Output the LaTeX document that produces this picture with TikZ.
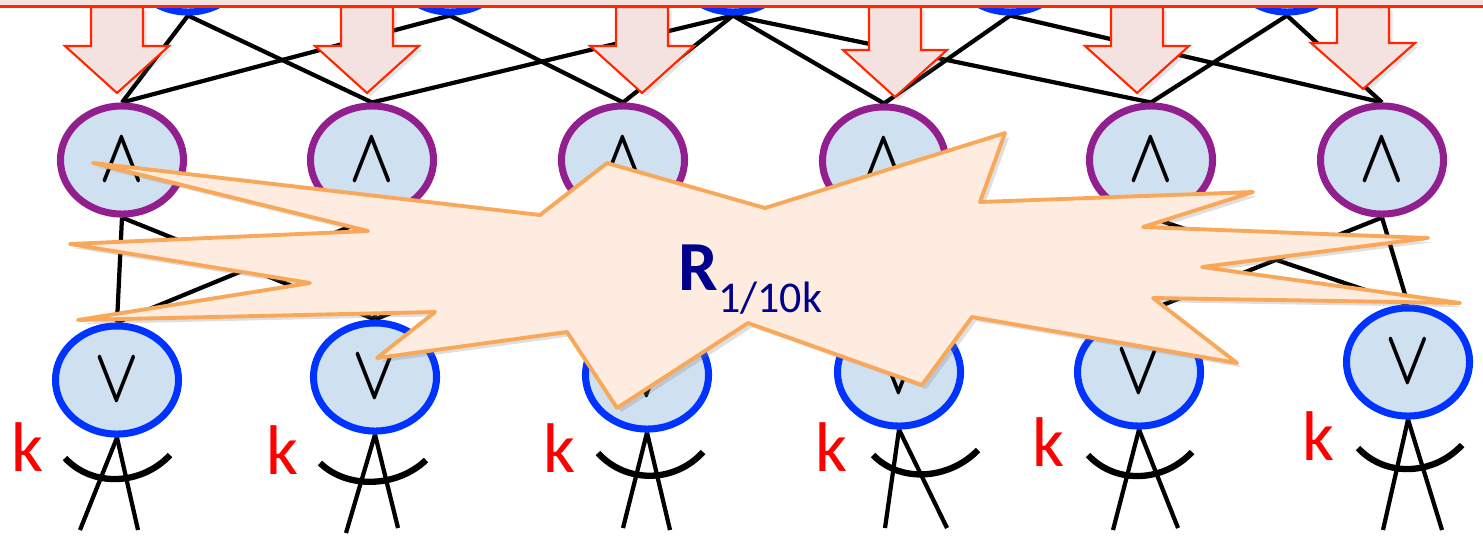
\documentclass[tikz,border=0pt]{standalone}
\usepackage{fontspec}
\newfontfamily\calib{Carlito}
\usetikzlibrary{shapes.geometric,shadows,backgrounds}
\definecolor{gateFill}{RGB}{207,224,241}
\definecolor{andPurple}{RGB}{145,32,142}
\definecolor{orBlue}{RGB}{0,51,255}
\definecolor{pushFill}{RGB}{243,226,224}
\definecolor{pushRed}{RGB}{255,38,0}
\definecolor{boomFill}{RGB}{253,236,223}
\definecolor{boomEdge}{RGB}{248,168,88}
\definecolor{labNavy}{RGB}{0,0,140}

\begin{document}
\begin{tikzpicture}[x=0.01cm, y=-0.01cm,
    gate/.style={ellipse, fill=gateFill, line width=2pt, minimum width=1.23cm,
                 minimum height=1.08cm, inner sep=0pt,
                 font=\fontsize{21}{21}\selectfont\boldmath},
    andg/.style={gate, draw=andPurple},
    org/.style={gate, draw=orBlue},
    wire/.style={black, line width=1.2pt},
    smile/.style={black, line width=1.8pt},
    klab/.style={font=\calib\fontsize{20}{20}\selectfont, text=red, inner sep=0pt},
    downarr/.style={fill=pushFill, draw=pushRed, line width=0.6pt,
                    drop shadow={opacity=.2, shadow xshift=1pt, shadow yshift=-1pt}},
    boom/.style={fill=boomFill, draw=boomEdge, line width=1.1pt, line join=round,
                 drop shadow={opacity=.25, shadow xshift=1.2pt, shadow yshift=-1.2pt}}
  ]
  \useasboundingbox (0,0) rectangle (1483,536);

  % top row (mostly hidden)
  \node[org] (t1) at (188,-42) {};
  \node[org] (t2) at (450,-42) {};
  \node[org] (t3) at (733,-42) {};
  \node[org] (t4) at (1010,-42) {};
  \node[org] (t5) at (1287,-42) {};

  % and gates
  \node[andg] (a1) at (122,160) {\scalebox{0.8}[1.05]{$\wedge$}};
  \node[andg] (a2) at (372,160) {\scalebox{0.8}[1.05]{$\wedge$}};
  \node[andg] (a3) at (623,160) {\scalebox{0.8}[1.05]{$\wedge$}};
  \node[andg] (a4) at (884,161) {\scalebox{0.8}[1.05]{$\wedge$}};
  \node[andg] (a5) at (1151,160) {\scalebox{0.8}[1.05]{$\wedge$}};
  \node[andg] (a6) at (1382,160) {\scalebox{0.8}[1.05]{$\wedge$}};

  % or gates
  \node[org] (v1) at (117,380) {\scalebox{0.8}[1.05]{$\vee$}};
  \node[org] (v2) at (375,377) {\scalebox{0.8}[1.05]{$\vee$}};
  \node[org] (v3) at (647,375) {\scalebox{0.8}[1.05]{$\vee$}};
  \node[org] (v4) at (899,372) {\scalebox{0.8}[1.05]{$\vee$}};
  \node[org] (v5) at (1139,372) {\scalebox{0.8}[1.05]{$\vee$}};
  \node[org] (v6) at (1408,362) {\scalebox{0.8}[1.05]{$\vee$}};

  \coordinate (f1a) at (80,530);   \coordinate (f1b) at (138,530);
  \coordinate (f2a) at (346,533);  \coordinate (f2b) at (398,528);
  \coordinate (f3a) at (623,528);  \coordinate (f3b) at (670,530);
  \coordinate (f4a) at (885,528);  \coordinate (f4b) at (947,528);
  \coordinate (f5a) at (1113,530); \coordinate (f5b) at (1178,528);
  \coordinate (f6a) at (1383,530); \coordinate (f6b) at (1442,530);

  \begin{pgfonlayer}{background}
    \draw[wire] (t1.south) -- (a1.north);
    \draw[wire] (t1.south) -- (a2.north);
    \draw[wire] (t2.south) -- (a1.north);
    \draw[wire] (t2.south) -- (a3.north);
    \draw[wire] (t3.south) -- (a2.north);
    \draw[wire] (t3.south) -- (a3.north);
    \draw[wire] (t3.south) -- (a4.north);
    \draw[wire] (t3.south) -- (a5.north);
    \draw[wire] (t4.south) -- (a4.north);
    \draw[wire] (t4.south) -- (a6.north);
    \draw[wire] (t5.south) -- (a5.north);
    \draw[wire] (t5.south) -- (a6.north);

    \draw[wire] (a1.south) -- (v1.north);
    \draw[wire] (a1.south) -- (v2.north);
    \draw[wire] (a2.south) -- (v1.north);
    \draw[wire] (a2.south) -- (v2.north);
    \draw[wire] (a2.south) -- (v3.north);
    \draw[wire] (a3.south) -- (v2.north);
    \draw[wire] (a3.south) -- (v3.north);
    \draw[wire] (a3.south) -- (v4.north);
    \draw[wire] (a4.south) -- (v3.north);
    \draw[wire] (a4.south) -- (v4.north);
    \draw[wire] (a4.south) -- (v5.north);
    \draw[wire] (a5.south) -- (v4.north);
    \draw[wire] (a5.south) -- (v5.north);
    \draw[wire] (a5.south) -- (v6.north);
    \draw[wire] (a6.south) -- (v5.north);
    \draw[wire] (a6.south) -- (v6.north);

    \draw[wire] (v1.south) -- (f1a);  \draw[wire] (v1.south) -- (f1b);
    \draw[wire] (v2.south) -- (f2a);  \draw[wire] (v2.south) -- (f2b);
    \draw[wire] (v3.south) -- (f3a);  \draw[wire] (v3.south) -- (f3b);
    \draw[wire] (v4.south) -- (f4a);  \draw[wire] (v4.south) -- (f4b);
    \draw[wire] (v5.south) -- (f5a);  \draw[wire] (v5.south) -- (f5b);
    \draw[wire] (v6.south) -- (f6a);  \draw[wire] (v6.south) -- (f6b);
  \end{pgfonlayer}

  % threshold arcs
  \draw[smile] (65,458) .. controls +(28,30) and +(-28,30) .. (170,455);
  \draw[smile] (320,463) .. controls +(28,27) and +(-28,27) .. (426,460);
  \draw[smile] (598,453) .. controls +(28,31) and +(-28,31) .. (703,452);
  \draw[smile] (873,455) .. controls +(28,29) and +(-28,29) .. (978,450);
  \draw[smile] (1088,455) .. controls +(28,30) and +(-28,30) .. (1192,452);
  \draw[smile] (1358,448) .. controls +(28,30) and +(-28,30) .. (1462,445);

  \node[klab] (k1) at (27,447) {k};
  \node[klab] (k2) at (282,450) {k};
  \node[klab] (k3) at (559,448) {k};
  \node[klab] (k4) at (831,447) {k};
  \node[klab] (k5) at (1048,442) {k};
  \node[klab] (k6) at (1318,436) {k};

  % push arrows
  \draw[downarr, shift={(117,0)}] (-26,7) -- (-26,46) -- (-52,46) -- (0,93) -- (52,46) -- (26,46) -- (26,7) -- cycle;
  \draw[downarr, shift={(367,0)}] (-26,7) -- (-26,46) -- (-52,46) -- (0,93) -- (52,46) -- (26,46) -- (26,7) -- cycle;
  \draw[downarr, shift={(642,0)}] (-26,7) -- (-26,46) -- (-52,46) -- (0,93) -- (52,46) -- (26,46) -- (26,7) -- cycle;
  \draw[downarr, shift={(895,0)}] (-26,7) -- (-26,50) -- (-52,50) -- (0,97) -- (52,50) -- (26,50) -- (26,7) -- cycle;
  \draw[downarr, shift={(1137,0)}] (-26,7) -- (-26,46) -- (-52,46) -- (0,93) -- (52,46) -- (26,46) -- (26,7) -- cycle;
  \draw[downarr, shift={(1363,0)}] (-26,7) -- (-26,43) -- (-52,43) -- (0,89) -- (52,43) -- (26,43) -- (26,7) -- cycle;

  \draw[fill=pushFill, draw=pushRed, line width=1pt] (-20,-100) rectangle (1503,6.5);

  % the blast
  \draw[boom] (93,163) -- (540,215) -- (607,163) -- (765,208) -- (1005,133)
    -- (980,202) -- (1253,192) -- (1143,227) -- (1428,238) -- (1202,267)
    -- (1460,303) -- (1153,298) -- (1237,363) -- (972,317) -- (922,385)
    -- (748,323) -- (617,408) -- (567,332) -- (377,358) -- (435,312)
    -- (78,320) -- (310,283) -- (70,244) -- (368,231) -- cycle;

  \node[anchor=base west, inner sep=0pt, text=labNavy] (rlab) at (678,290)
    {{\calib\bfseries\fontsize{20}{20}\selectfont R}\raisebox{-6.5pt}{\calib\fontsize{12.5}{12.5}\selectfont 1/10k}};
\end{tikzpicture}
\end{document}
